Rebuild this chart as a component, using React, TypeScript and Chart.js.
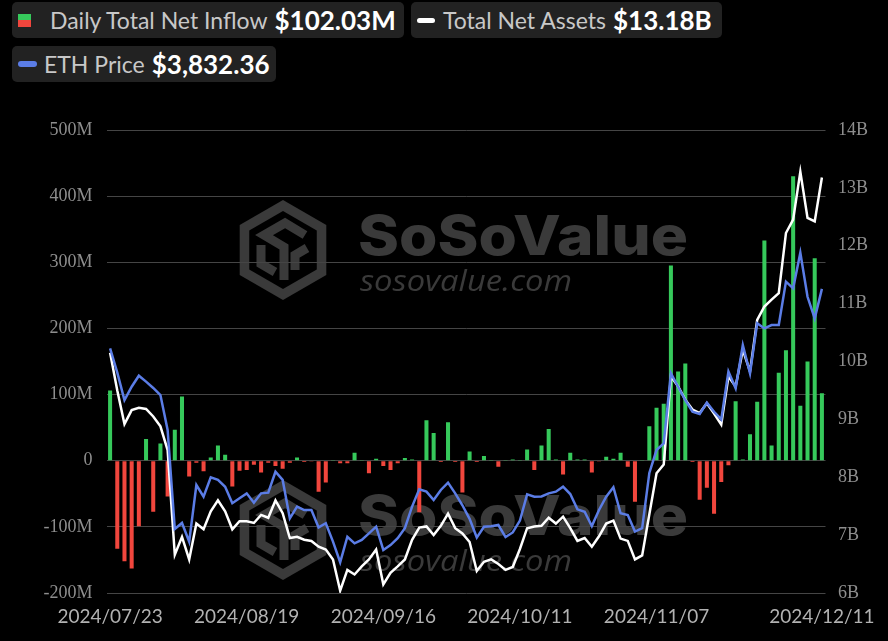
import React, { useEffect, useRef } from "react";
import { Chart, registerables } from "chart.js";

Chart.register(...registerables);

// ---------------- DATA ----------------
const DATES = [
  "2024/07/23", "2024/07/24", "2024/07/25", "2024/07/26", "2024/07/29", "2024/07/30", "2024/07/31",
  "2024/08/01", "2024/08/02", "2024/08/05", "2024/08/06", "2024/08/07", "2024/08/08", "2024/08/09",
  "2024/08/12", "2024/08/13", "2024/08/14", "2024/08/15", "2024/08/16", "2024/08/19", "2024/08/20",
  "2024/08/21", "2024/08/22", "2024/08/23", "2024/08/26", "2024/08/27", "2024/08/28", "2024/08/29",
  "2024/08/30", "2024/09/03", "2024/09/04", "2024/09/05", "2024/09/06", "2024/09/09", "2024/09/10",
  "2024/09/11", "2024/09/12", "2024/09/13", "2024/09/16", "2024/09/17", "2024/09/18", "2024/09/19",
  "2024/09/20", "2024/09/23", "2024/09/24", "2024/09/25", "2024/09/26", "2024/09/27", "2024/09/30",
  "2024/10/01", "2024/10/02", "2024/10/03", "2024/10/04", "2024/10/07", "2024/10/08", "2024/10/09",
  "2024/10/10", "2024/10/11", "2024/10/14", "2024/10/15", "2024/10/16", "2024/10/17", "2024/10/18",
  "2024/10/21", "2024/10/22", "2024/10/23", "2024/10/24", "2024/10/25", "2024/10/28", "2024/10/29",
  "2024/10/30", "2024/10/31", "2024/11/01", "2024/11/04", "2024/11/05", "2024/11/06", "2024/11/07",
  "2024/11/08", "2024/11/11", "2024/11/12", "2024/11/13", "2024/11/14", "2024/11/15", "2024/11/18",
  "2024/11/19", "2024/11/20", "2024/11/21", "2024/11/22", "2024/11/25", "2024/11/26", "2024/11/27",
  "2024/11/29", "2024/12/02", "2024/12/03", "2024/12/04", "2024/12/05", "2024/12/06", "2024/12/09",
  "2024/12/10", "2024/12/11",
];

const X_TICK_LABELS = ["2024/07/23", "2024/08/19", "2024/09/16", "2024/10/11", "2024/11/07", "2024/12/11"];

// Daily total net inflow, $M
const NET_INFLOW_M = [
  106, -133, -152, -163, -99, 33, -77, 26, -54, 47,
  97, -24, -3, -16, 5, 23, 9, -39, -15, -14,
  -6, -18, -3, -8, -12, -3, 5, -2, -1, -47,
  -33, 1, -4, -4, 12, 1, -19, 3, -8, -14,
  -4, 4, 2, -78, 61, 42, -2, 58, -2, -48,
  14, -2, 7, 1, -9, 1, 2, 1, 17, -14,
  23, 48, 2, -21, 12, 2, 2, -18, -1, 6,
  3, 12, -9, -62, 0.5, 52, 80, 86, 295, 135,
  147, -2, -59, -41, -80, -32, -7, 90, 2, 40,
  89, 333, 23, 133, 167, 430, 83, 150, 306, 102.03,
];

// Total net assets, $B
const TOTAL_NET_ASSETS_B = [
  10.15, 9.5, 8.92, 9.16, 9.2, 9.18, 9.05, 8.88, 8.47, 6.66,
  6.97, 6.58, 7.2, 7.1, 7.41, 7.6, 7.41, 7.1, 7.24, 7.24,
  7.21, 7.35, 7.3, 7.6, 7.38, 6.95, 6.97, 6.92, 6.9, 6.8,
  6.75, 6.58, 6.04, 6.4, 6.32, 6.46, 6.58, 6.75, 6.15, 6.35,
  6.46, 6.58, 6.92, 7.13, 7.15, 7.0, 7.16, 7.37, 7.12, 7.03,
  6.88, 6.38, 6.54, 6.58, 6.5, 6.4, 6.45, 6.76, 7.12, 7.15,
  7.16, 7.3, 7.2, 7.32, 7.12, 6.9, 6.95, 6.8, 6.98, 7.2,
  7.25, 6.94, 6.9, 6.58, 6.65, 7.36, 8.07, 8.22, 9.74, 9.57,
  9.34, 9.17, 9.11, 9.28, 9.1, 8.91, 9.74, 9.57, 10.2, 9.83,
  10.72, 10.95, 11.07, 11.18, 12.22, 12.45, 13.28, 12.48, 12.42, 13.18,
];

// ETH price, $
const ETH_PRICE_USD = [
  3483, 3340, 3179, 3257, 3322, 3287, 3250, 3208, 3003, 2420,
  2456, 2346, 2679, 2610, 2724, 2709, 2669, 2572, 2601, 2630,
  2575, 2630, 2634, 2757, 2709, 2483, 2552, 2532, 2532, 2430,
  2454, 2346, 2225, 2375, 2336, 2356, 2395, 2434, 2297, 2326,
  2366, 2425, 2552, 2654, 2640, 2591, 2650, 2693, 2630, 2560,
  2480, 2370, 2434, 2436, 2444, 2373, 2400, 2470, 2624, 2610,
  2612, 2630, 2640, 2669, 2626, 2536, 2522, 2438, 2532, 2610,
  2666, 2513, 2503, 2405, 2425, 2750, 2885, 2924, 3336, 3257,
  3179, 3110, 3097, 3163, 3110, 3065, 3346, 3248, 3502, 3336,
  3630, 3600, 3620, 3620, 3875, 3836, 4045, 3786, 3659, 3832.36,
];

const INFLOW_RANGE = [-200, 500];
const ASSETS_RANGE = [6, 14];
const PRICE_RANGE = [2044, 4767];

// ---------------- STYLE ----------------
const GREEN = "#36c95b";
const RED = "#f1463d";
const WHITE = "#ffffff";
const BLUE = "#5b7de6";
const GRID = "#454545";
const MARK = "#3a3a3a";

function hexPath(ctx: CanvasRenderingContext2D, cx: number, cy: number, r: number) {
  for (let k = 0; k < 6; k++) {
    const a = (Math.PI / 180) * (-90 + 60 * k);
    const x = cx + r * Math.cos(a);
    const y = cy + r * Math.sin(a);
    if (k === 0) ctx.moveTo(x, y);
    else ctx.lineTo(x, y);
  }
  ctx.closePath();
}

function drawFitted(ctx: CanvasRenderingContext2D, text: string, font: string, x: number, y: number, w: number) {
  ctx.font = font;
  const m = ctx.measureText(text).width;
  ctx.save();
  ctx.translate(x, y);
  ctx.scale(w / m, 1);
  ctx.fillText(text, 0, 0);
  ctx.restore();
}

function drawMark(ctx: CanvasRenderingContext2D, dy: number) {
  const cx = 283;
  const cy = 250 + dy;
  ctx.fillStyle = MARK;
  ctx.beginPath();
  hexPath(ctx, cx, cy, 50);
  ctx.fill();
  ctx.fillStyle = "#000";
  ctx.beginPath();
  hexPath(ctx, cx, cy, 39);
  ctx.fill();
  ctx.strokeStyle = MARK;
  ctx.lineWidth = 9;
  ctx.lineJoin = "miter";
  ctx.lineCap = "butt";
  ctx.beginPath();
  ctx.moveTo(cx + 22, cy - 15);
  ctx.lineTo(cx + 2, cy - 27);
  ctx.lineTo(cx - 19, cy - 15);
  ctx.lineTo(cx + 1, cy - 3);
  ctx.lineTo(cx + 1, cy + 30);
  ctx.stroke();
  ctx.beginPath();
  ctx.moveTo(cx - 22, cy - 5);
  ctx.lineTo(cx - 22, cy + 14);
  ctx.lineTo(cx - 8, cy + 22);
  ctx.stroke();
  ctx.beginPath();
  ctx.moveTo(cx + 24, cy - 2);
  ctx.lineTo(cx + 12, cy + 5);
  ctx.lineTo(cx + 12, cy + 20);
  ctx.stroke();
  ctx.fillStyle = MARK;
  ctx.textAlign = "left";
  ctx.textBaseline = "alphabetic";
  drawFitted(ctx, "SoSoValue", "800 55px Inter, sans-serif", 358, 255 + dy, 330);
  drawFitted(ctx, "sosovalue.com", "italic 400 29px 'Open Sans', sans-serif", 360, 291 + dy, 212);
}

const backgroundPlugin = {
  id: "bgWatermark",
  beforeDraw(chart: any) {
    const ctx = chart.ctx as CanvasRenderingContext2D;
    ctx.save();
    ctx.fillStyle = "#000";
    ctx.fillRect(0, 0, chart.width, chart.height);
    drawMark(ctx, 0);
    drawMark(ctx, 280);
    ctx.restore();
  },
};

// ---------------- LEGEND ----------------
const boxBase: React.CSSProperties = {
  position: "absolute",
  height: 36,
  background: "#222222",
  borderRadius: 5,
  display: "flex",
  alignItems: "center",
  boxSizing: "border-box",
  fontFamily: "Lato, sans-serif",
  whiteSpace: "nowrap",
};
const labelStyle: React.CSSProperties = { color: "#c8c8c8", fontSize: 23, fontWeight: 400 };
const valueStyle: React.CSSProperties = { color: "#ffffff", fontSize: 26, fontWeight: 700, marginLeft: 7 };

function LegendBox(props: { left: number; top: number; width: number; icon: React.ReactNode; label: string; value: string }) {
  return (
    <div style={{ ...boxBase, left: props.left, top: props.top, width: props.width, paddingLeft: 6 }}>
      {props.icon}
      <span style={labelStyle}>{props.label}</span>
      <span style={valueStyle}>{props.value}</span>
    </div>
  );
}

const fmtInflow = "$" + NET_INFLOW_M[NET_INFLOW_M.length - 1].toFixed(2) + "M";
const fmtAssets = "$" + TOTAL_NET_ASSETS_B[TOTAL_NET_ASSETS_B.length - 1].toFixed(2) + "B";
const fmtPrice = "$" + ETH_PRICE_USD[ETH_PRICE_USD.length - 1].toLocaleString("en-US", { minimumFractionDigits: 2 });

export default function App() {
  const ref = useRef<HTMLCanvasElement>(null);

  useEffect(() => {
    document.body.style.margin = "0";
    document.body.style.background = "#000";
    const canvas = ref.current!;
    const chart = new Chart(canvas, {
      type: "bar",
      data: {
        labels: DATES,
        datasets: [
          {
            type: "line",
            label: "ETH Price",
            data: ETH_PRICE_USD,
            yAxisID: "yPrice",
            borderColor: BLUE,
            backgroundColor: BLUE,
            borderWidth: 2.5,
            pointRadius: 0,
            tension: 0,
            order: 0,
          } as any,
          {
            type: "line",
            label: "Total Net Assets",
            data: TOTAL_NET_ASSETS_B,
            yAxisID: "yAssets",
            borderColor: WHITE,
            backgroundColor: WHITE,
            borderWidth: 2.5,
            pointRadius: 0,
            tension: 0,
            order: 1,
          } as any,
          {
            type: "bar",
            label: "Daily Total Net Inflow",
            data: NET_INFLOW_M,
            yAxisID: "yInflow",
            backgroundColor: NET_INFLOW_M.map((v) => (v >= 0 ? GREEN : RED)),
            barPercentage: 0.56,
            categoryPercentage: 1,
            order: 2,
          } as any,
        ],
      },
      options: {
        responsive: false,
        animation: false,
        devicePixelRatio: 1,
        layout: { padding: { top: 130, left: 0, right: 0, bottom: 0 } },
        plugins: { legend: { display: false }, tooltip: { enabled: false } },
        scales: {
          x: {
            type: "category",
            offset: true,
            grid: { display: false, drawTicks: false },
            border: { display: false },
            afterFit: (s: any) => {
              s.height = 48;
            },
            ticks: {
              autoSkip: false,
              maxRotation: 0,
              minRotation: 0,
              padding: 12,
              color: "#b2b2b2",
              font: { family: "Lato, sans-serif", size: 19 },
              callback: (_v: any, i: number) => (X_TICK_LABELS.includes(DATES[i]) ? DATES[i] : ""),
            },
          },
          yInflow: {
            type: "linear",
            position: "left",
            min: INFLOW_RANGE[0],
            max: INFLOW_RANGE[1],
            afterFit: (s: any) => {
              s.width = 106.5;
            },
            grid: { color: GRID, lineWidth: 1, drawTicks: false },
            border: { display: false },
            ticks: {
              stepSize: 100,
              padding: 14,
              color: "#8e8e8e",
              font: { family: "'Liberation Serif', serif", size: 18 },
              callback: (v: any) => (Number(v) === 0 ? "0" : v + "M"),
            },
          },
          yAssets: {
            type: "linear",
            position: "right",
            min: ASSETS_RANGE[0],
            max: ASSETS_RANGE[1],
            afterFit: (s: any) => {
              s.width = 62.5;
            },
            grid: { display: false, drawTicks: false },
            border: { display: false },
            ticks: {
              stepSize: 1,
              padding: 12.5,
              color: "#8e8e8e",
              font: { family: "'Liberation Serif', serif", size: 18 },
              callback: (v: any) => v + "B",
            },
          },
          yPrice: {
            type: "linear",
            display: false,
            min: PRICE_RANGE[0],
            max: PRICE_RANGE[1],
          },
        },
      } as any,
      plugins: [backgroundPlugin],
    });
    return () => chart.destroy();
  }, []);

  return (
    <div style={{ position: "relative", width: 888, height: 641, background: "#000", overflow: "hidden" }}>
      <canvas ref={ref} width={888} height={641} style={{ position: "absolute", left: 0, top: 0, width: 888, height: 641 }} />
      <LegendBox
        left={12}
        top={2}
        width={392}
        label="Daily Total Net Inflow"
        value={fmtInflow}
        icon={
          <span style={{ display: "inline-block", width: 13, height: 13, marginRight: 19, marginLeft: 0, background: `linear-gradient(${GREEN} 50%, ${RED} 50%)` }} />
        }
      />
      <LegendBox
        left={411}
        top={2}
        width={311}
        label="Total Net Assets"
        value={fmtAssets}
        icon={<span style={{ display: "inline-block", width: 18, height: 5, borderRadius: 3, background: WHITE, marginRight: 8 }} />}
      />
      <LegendBox
        left={12}
        top={46}
        width={264}
        label="ETH Price"
        value={fmtPrice}
        icon={<span style={{ display: "inline-block", width: 19, height: 6, borderRadius: 3, background: BLUE, marginRight: 7 }} />}
      />
    </div>
  );
}
